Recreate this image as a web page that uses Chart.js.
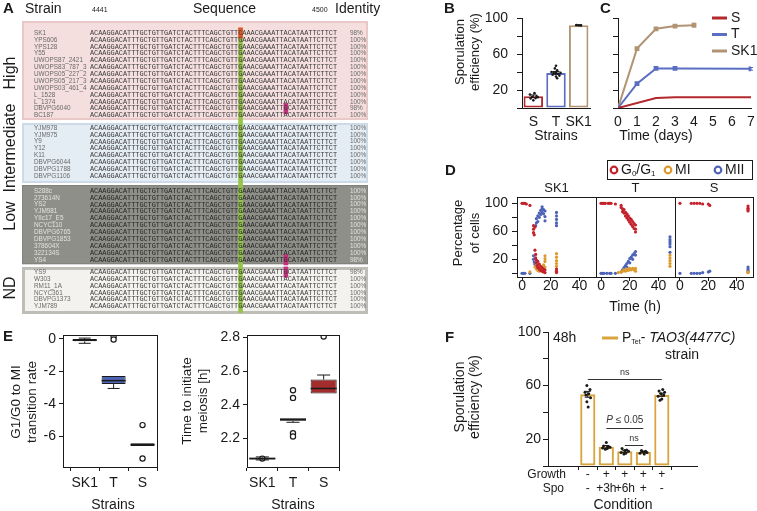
<!DOCTYPE html>
<html>
<head>
<meta charset="utf-8">
<script src="https://cdn.jsdelivr.net/npm/chart.js@4.4.1/dist/chart.umd.min.js"></script>
<style>
  html, body { margin: 0; padding: 0; background: #fff; }
  #stage { position: relative; width: 757px; height: 511px; overflow: hidden; background: #fff; }
  #stage canvas { position: absolute; left: 0; top: 0; }
</style>
</head>
<body>
<div id="stage"></div>
<script>
// ---------------- data ----------------

// A: TAO3 alignment, positions 4441-4500
const seqRef = 'ACAAGGACATTTGCTGTTGATCTACTTTCAGCTGTTGAAACGAAATTACATAATTCTTCT';
const seqFrom = 4441;
const seqTo = 4500;
const snpPosition = 4477;
const highStrains = ['SK1', 'YPS606', 'YPS128', 'Y55', 'UWOPS87_2421', 'UWOPS83_787_3', 'UWOPS05_227_2',
  'UWOPS05_217_3', 'UWOPS03_461_4', 'L_1528', 'L_1374', 'DBVPG6040', 'BC187'];
const highIdentity = [98, 100, 100, 100, 100, 100, 100, 100, 100, 100, 100, 98, 100];
const intStrains = ['YJM978', 'YJM975', 'Y9', 'Y12', 'K11', 'DBVPG6044', 'DBVPG1788', 'DBVPG1106'];
const intIdentity = [100, 100, 100, 100, 100, 100, 100, 100];
const lowStrains = ['S288c', '273614N', 'YS2', 'YJM981', 'YIIc17_E5', 'NCYC110', 'DBVPG6765', 'DBVPG1853',
  '378604X', '322134S', 'YS4'];
const lowIdentity = [100, 100, 100, 100, 100, 100, 100, 100, 100, 100, 98];
const ndStrains = ['YS9', 'W303', 'RM11_1A', 'NCYC361', 'DBVPG1373', 'YJM789'];
const ndIdentity = [98, 100, 100, 100, 100, 100];
const groupNames = ['High', 'Intermediate', 'Low', 'ND'];
const variantStrains = ['SK1', 'DBVPG6040', 'YS4', 'YS9'];
const variantPositions = [4477, 4488, 4488, 4488];
const variantBases = ['C', 'G', 'G', 'G'];

// B: sporulation efficiency
const bStrains = ['S', 'T', 'SK1'];
const bMeans = [13, 39, 92];
const bErr = [1.5, 1.5, 0.5];
const bDotsS = [[-0.15, 15], [0.05, 16.5], [0.15, 13], [-0.05, 12.5], [0.1, 11], [-0.12, 10.5], [0, 8.5], [0.2, 12]];
const bDotsT = [[0, 47], [-0.05, 44], [0.05, 42], [-0.2, 40], [-0.1, 39], [0, 39], [0.1, 38], [0.2, 39],
  [-0.15, 37], [0.15, 36], [0, 35], [0.05, 33]];
const bDotsSK1 = [[-0.1, 92.3], [0, 92], [0.1, 91.8]];
const pctTicks = [0, 20, 40, 60, 80, 100];
const pctLabelled = [20, 60, 100];

// C: time course (days)
const cSDays = [0, 2, 3, 7];
const cSValues = [0, 11, 12, 12];
const cTDays = [0, 1, 2, 3, 7];
const cTValues = [0, 27, 44, 44, 43.5];
const cTErr = [0, 1.5, 1.2, 0.8, 1.5];
const cSK1Days = [0, 1, 2, 3, 4];
const cSK1Values = [0, 66, 88, 91, 92];
const cSK1Err = [0, 1.2, 1, 1.5, 2];
const dayTicks = [0, 1, 2, 3, 4, 5, 6, 7];

// D: meiotic progression, [time h, % cells]
const dPhases = ['G0/G1', 'MI', 'MII'];
const dSk1G01 = [[0, 100], [1, 100], [2, 100], [3, 99], [5.5, 97], [8, 68], [8, 63], [8, 58], [8.5, 55], [9, 66],
  [9, 33], [9.5, 27], [9.5, 22], [10, 19], [10, 15], [10.5, 11], [11, 17], [11, 8], [12, 13], [12, 6], [13, 10],
  [13, 4], [14, 8], [14, 3], [15, 6], [15, 2], [16, 5], [16, 1], [24, 6], [24, 3], [24, 1]];
const dSk1MI = [[5.5, 2], [9, 9], [10, 12], [10, 6], [11, 10], [11, 4], [12, 8], [12, 3], [13, 9], [13, 5], [14, 7],
  [14, 3], [15, 12], [15, 5], [16, 17], [16, 21], [16, 25], [16, 9], [24, 28], [24, 23], [24, 18], [24, 14], [24, 10]];
const dSk1MII = [[0, 0], [1, 0], [2, 0], [5.5, 0], [8, 25], [8, 20], [8.5, 16], [9, 13], [9.5, 68], [10, 72],
  [10, 78], [11, 82], [11, 74], [12, 86], [12, 80], [13, 90], [13, 84], [14, 95], [14, 92], [14, 87], [15, 91],
  [15, 85], [16, 89], [16, 81], [16, 75], [24, 87], [24, 82], [24, 77], [24, 72], [24, 68]];
const dTG01 = [[0, 100], [1, 100], [2, 100], [3, 100], [5, 100], [6, 100], [7, 100], [10, 99], [14, 97], [14, 94],
  [15, 92], [15, 88], [16, 91], [16, 86], [17, 87], [17, 82], [18, 85], [18, 79], [19, 82], [19, 76], [20, 79],
  [20, 73], [21, 77], [21, 70], [22, 74], [22, 67], [23, 71], [23, 64], [24, 69], [24, 63], [24, 59]];
const dTMI = [[12, 1], [14, 2], [15, 3], [16, 5], [17, 3], [18, 6], [19, 4], [20, 7], [21, 5], [22, 7], [23, 5],
  [24, 7], [24, 3], [48, 26], [48, 22], [48, 18], [48, 14], [48, 10]];
const dTMII = [[0, 0], [1, 0], [2, 0], [4, 0], [6, 0], [7, 0], [10, 0], [14, 2], [15, 5], [16, 8], [17, 11], [18, 14],
  [18, 9], [19, 17], [20, 21], [20, 15], [21, 23], [22, 26], [22, 20], [23, 28], [24, 31], [24, 26], [48, 52],
  [48, 48], [48, 45], [48, 42], [48, 38], [48, 30]];
const dSG01 = [[0, 100], [8, 100], [10, 100], [12, 100], [14, 100], [16, 99], [20, 99], [21, 97], [48, 96], [48, 93],
  [48, 91], [48, 89]];
const dSMI = [[48, 2], [48, 1]];
const dSMII = [[0, 0], [8, 0], [10, 0], [12, 0], [14, 0], [16, 1], [20, 2], [21, 3], [48, 9], [48, 6], [48, 4], [48, 2]];
const hourTicks = [0, 20, 40];

// E: box plots
const eStrains = ['SK1', 'T', 'S'];
const rateTicks = [0, -2, -4, -6];
const rateLow = [-0.28, -3.05, -6.58];
const rateQ1 = [-0.16, -2.78, -6.58];
const rateMedian = [-0.09, -2.57, -6.5];
const rateQ3 = [-0.02, -2.29, -6.42];
const rateHigh = [0.04, -2.29, -6.42];
const rateOutlierX = [1, 1, 2, 2];
const rateOutlierY = [0.15, -0.05, -5.3, -7.35];
const timeTicks = [2.2, 2.4, 2.6, 2.8];
const timeLow = [2.072, 2.296, 2.467];
const timeQ1 = [2.075, 2.305, 2.467];
const timeMedian = [2.08, 2.312, 2.497];
const timeQ3 = [2.086, 2.32, 2.55];
const timeHigh = [2.09, 2.322, 2.577];
const timeOutlierX = [0, 1, 1, 1, 1, 2];
const timeOutlierY = [2.08, 2.486, 2.441, 2.231, 2.211, 2.806];

// F: PTet-TAO3(4477C) strain
const fConditions = [1, 2, 3, 4, 5];
const fGrowth = ['-', '+', '+', '+', '+'];
const fSpo = ['-', '+3h', '+6h', '+', '-'];
const fMeans = [53.5, 14.3, 11, 10.5, 53.2];
const fErr = [2.2, 1, 0.8, 0.5, 1.2];
const fDots1 = [[-0.05, 60], [0.12, 57], [-0.15, 55], [0.05, 54], [-0.1, 53], [0.15, 51], [-0.05, 48], [0.02, 44]];
const fDots2 = [[0, 17.5], [-0.15, 15], [0.1, 14.5], [0.2, 14], [-0.2, 13.5], [0.05, 13], [-0.05, 12.5]];
const fDots3 = [[-0.15, 13], [0.1, 12], [0, 11.5], [0.2, 11], [-0.2, 10], [0.05, 9.5], [-0.05, 9]];
const fDots4 = [[-0.1, 11.5], [0.12, 11], [0, 10.5], [0.2, 10], [-0.18, 9.5], [0.05, 9]];
const fDots5 = [[0.05, 57], [-0.15, 56], [0.15, 55], [-0.05, 54], [0.1, 53], [-0.2, 52], [0, 50], [-0.1, 49]];
const fSigFrom = [1, 2, 3];
const fSigTo = [5, 4, 4];
const fSigLevel = [64.6, 28, 15.5];
const fSigText = ['ns', 'P ≤ 0.05', 'ns'];

// ---------------- styles / setup ----------------
const W = 757, H = 511;
const INK = '#1a1a1a';
const SANS = "'Liberation Sans', Arial, Helvetica, sans-serif";
const MONO = "'Liberation Mono', 'DejaVu Sans Mono', monospace";
const strainColors = ['#b3282d', '#5a6ec2', '#b09474'];   // S, T, SK1
const phaseColors = ['#c4212b', '#dc9a2c', '#4c63b6'];
const gold = '#d9a43e';

const groupStyles = [
  { first: 0, padTop: 1.74, padBottom: 0.65, fill: '#f4dede', edge: '#eac8c8', edgeW: 2, name: '#6a6a6a', seq: '#3a3a3a', labelY: 73 },
  { first: 13.8, padTop: 0.72, padBottom: 1.0, fill: '#e4ecf4', edge: '#cddbe8', edgeW: 2, name: '#6a6a6a', seq: '#3a3a3a', labelY: 148 },
  { first: 22.96, padTop: 0.86, padBottom: 0.64, fill: '#8d8f88', edge: '#80827b', edgeW: 1, name: '#e2e2e2', seq: '#262626', labelY: 216 },
  { first: 34.75, padTop: 0.75, padBottom: 1.09, fill: '#f3f2ef', edge: '#bebdb8', edgeW: 3, name: '#6a6a6a', seq: '#3a3a3a', labelY: 288 }
];
const variantColors = ['#e0562b', '#c7307e', '#c7307e', '#c7307e'];

Chart.defaults.font.family = SANS;
Chart.defaults.font.size = 14;
Chart.defaults.color = INK;
Chart.defaults.animation = false;
Chart.defaults.responsive = false;
Chart.defaults.maintainAspectRatio = false;
Chart.defaults.devicePixelRatio = 1;
Chart.defaults.events = [];
Chart.defaults.plugins.legend.display = false;
Chart.defaults.plugins.tooltip.enabled = false;

const stage = document.getElementById('stage');
function newCanvas() {
  const c = document.createElement('canvas');
  c.width = W; c.height = H;
  c.style.width = W + 'px'; c.style.height = H + 'px';
  stage.appendChild(c);
  return c;
}
// place the chart area at (l,t)-(r,b) on the page; yW / xH = room kept for visible axes
function area(l, t, r, b, yW = 0, xH = 0) {
  return { padding: { left: l - yW, top: t, right: W - r, bottom: H - b - xH } };
}
const fixW = w => s => { s.width = w; s.paddingTop = 0; s.paddingBottom = 0; };
const fixH = h => s => { s.height = h; s.paddingLeft = 0; s.paddingRight = 0; };
const tickList = vals => s => { s.ticks = vals.map(v => ({ value: v })); };
const fnt = (size, italic, bold) => `${italic ? 'italic ' : ''}${bold ? 'bold ' : ''}${size}px ${SANS}`;
const pairs = (list, shift = 0) => list.map(p => ({ x: p[0] + shift, y: p[1] }));

// ---------------- plugins ----------------
const decorPlugin = {
  id: 'decor',
  afterDraw(chart, args, o) {
    if (!o || !o.items) return;
    const ctx = chart.ctx;
    o.items.forEach(it => {
      ctx.save();
      ctx.strokeStyle = it.color || INK;
      ctx.fillStyle = it.color || INK;
      ctx.lineWidth = it.w || 1;
      if (it.line) {
        ctx.beginPath(); ctx.moveTo(it.line[0], it.line[1]); ctx.lineTo(it.line[2], it.line[3]); ctx.stroke();
      } else if (it.rect) {
        ctx.strokeRect(it.rect[0], it.rect[1], it.rect[2], it.rect[3]);
      } else if (it.ring) {
        ctx.beginPath(); ctx.arc(it.ring[0], it.ring[1], it.r, 0, Math.PI * 2); ctx.stroke();
      } else if (it.parts) {
        let x = it.x;
        ctx.textAlign = 'left'; ctx.textBaseline = 'middle';
        it.parts.forEach(p => {
          ctx.font = fnt(p.size || it.size, p.italic, false);
          ctx.fillText(p.s, x, it.y + (p.dy || 0));
          x += ctx.measureText(p.s).width;
        });
      } else {
        ctx.translate(it.x, it.y);
        if (it.rot) ctx.rotate(it.rot * Math.PI / 180);
        ctx.font = fnt(it.size || 14, it.italic, it.bold);
        ctx.textAlign = it.align || 'center';
        ctx.textBaseline = 'middle';
        ctx.fillText(it.text, 0, 0);
      }
      ctx.restore();
    });
  }
};

const framePlugin = {
  id: 'frame',
  afterDatasetsDraw(chart, args, o) {
    if (!o || !o.on) return;
    const { ctx, chartArea: a } = chart;
    ctx.save();
    ctx.strokeStyle = INK; ctx.lineWidth = 1;
    ctx.strokeRect(Math.round(a.left) + 0.5, Math.round(a.top) + 0.5, Math.round(a.right - a.left), Math.round(a.bottom - a.top));
    ctx.restore();
  }
};

const errPlugin = {
  id: 'errbars',
  afterDatasetsDraw(chart, args, o) {
    if (!o || !o.sets) return;
    const ctx = chart.ctx;
    o.sets.forEach(set => {
      const meta = chart.getDatasetMeta(set.dataset);
      const ys = chart.scales[meta.yAxisID];
      ctx.save();
      ctx.strokeStyle = set.color || INK; ctx.lineWidth = 1;
      meta.data.forEach((el, i) => {
        const e = set.err[i];
        if (!e) return;
        const v = meta.controller.getParsed(i).y;
        const y1 = ys.getPixelForValue(v - e), y2 = ys.getPixelForValue(v + e);
        ctx.beginPath();
        ctx.moveTo(el.x, y1); ctx.lineTo(el.x, y2);
        ctx.moveTo(el.x - set.cap / 2, y1); ctx.lineTo(el.x + set.cap / 2, y1);
        ctx.moveTo(el.x - set.cap / 2, y2); ctx.lineTo(el.x + set.cap / 2, y2);
        ctx.stroke();
      });
      ctx.restore();
    });
  }
};

const boxPlugin = {
  id: 'boxplot',
  afterDatasetsDraw(chart, args, o) {
    if (!o || !o.median) return;
    const ctx = chart.ctx;
    const meta = chart.getDatasetMeta(0);
    const ys = chart.scales.y;
    ctx.save();
    ctx.strokeStyle = INK;
    meta.data.forEach((el, i) => {
      const half = el.width / 2, cap = el.width / 4;
      const pLo = ys.getPixelForValue(o.low[i]), pHi = ys.getPixelForValue(o.high[i]);
      const pQ1 = ys.getPixelForValue(o.q1[i]), pQ3 = ys.getPixelForValue(o.q3[i]);
      ctx.lineWidth = 1;
      ctx.beginPath();
      if (Math.abs(pLo - pQ1) > 0.5) {
        ctx.moveTo(el.x, pQ1); ctx.lineTo(el.x, pLo); ctx.moveTo(el.x - cap, pLo); ctx.lineTo(el.x + cap, pLo);
      }
      if (Math.abs(pHi - pQ3) > 0.5) {
        ctx.moveTo(el.x, pQ3); ctx.lineTo(el.x, pHi); ctx.moveTo(el.x - cap, pHi); ctx.lineTo(el.x + cap, pHi);
      }
      ctx.stroke();
      const pMed = ys.getPixelForValue(o.median[i]);
      ctx.lineWidth = 1.5;
      ctx.beginPath(); ctx.moveTo(el.x - half, pMed); ctx.lineTo(el.x + half, pMed); ctx.stroke();
    });
    ctx.restore();
  }
};

const sigPlugin = {
  id: 'sig',
  afterDatasetsDraw(chart, args, o) {
    if (!o || !o.from) return;
    const { ctx, scales: { x, y } } = chart;
    ctx.save();
    ctx.strokeStyle = '#333'; ctx.fillStyle = '#333'; ctx.lineWidth = 1;
    ctx.textBaseline = 'middle';
    o.from.forEach((f, i) => {
      const x1 = x.getPixelForValue(f), x2 = x.getPixelForValue(o.to[i]);
      const py = Math.round(y.getPixelForValue(o.level[i])) + 0.5;
      ctx.beginPath(); ctx.moveTo(x1, py); ctx.lineTo(x2, py); ctx.stroke();
      const txt = o.text[i];
      const mid = (x1 + x2) / 2;
      if (txt.startsWith('P ')) {
        ctx.font = fnt(10, true); const wP = ctx.measureText('P').width;
        ctx.font = fnt(10); const rest = txt.slice(1); const wR = ctx.measureText(rest).width;
        const x0 = mid - (wP + wR) / 2;
        ctx.textAlign = 'left';
        ctx.font = fnt(10, true); ctx.fillText('P', x0, py - 8);
        ctx.font = fnt(10); ctx.fillText(rest, x0 + wP, py - 8);
      } else {
        ctx.font = fnt(9); ctx.textAlign = 'center';
        ctx.fillText(txt, mid, py - 7);
      }
    });
    ctx.restore();
  }
};

const lineLegendPlugin = {
  id: 'lineLegend',
  afterDraw(chart, args, o) {
    if (!o || !o.on) return;
    const ctx = chart.ctx;
    ctx.save();
    ctx.font = fnt(14); ctx.textBaseline = 'middle'; ctx.textAlign = 'left';
    chart.data.datasets.forEach((ds, i) => {
      const yy = o.y + i * o.dy;
      ctx.strokeStyle = ds.borderColor; ctx.lineWidth = 3;
      ctx.beginPath(); ctx.moveTo(o.x, yy); ctx.lineTo(o.x + o.len, yy); ctx.stroke();
      ctx.fillStyle = INK; ctx.fillText(ds.label, o.x + o.len + 4, yy);
    });
    ctx.restore();
  }
};

const alignmentPlugin = {
  id: 'alignment',
  beforeDatasetsDraw(chart, args, o) {
    if (!o || !o.on) return;
    const { ctx, chartArea: ca, scales: { x, y } } = chart;
    const groups = [highStrains, intStrains, lowStrains, ndStrains];
    const idents = [highIdentity, intIdentity, lowIdentity, ndIdentity];
    const nCols = seqTo - seqFrom + 1;
    ctx.save();
    groups.forEach((rows, g) => {
      const st = groupStyles[g];
      const top = y.getPixelForValue(st.first - st.padTop);
      const bot = y.getPixelForValue(st.first + rows.length - 1 + st.padBottom);
      ctx.fillStyle = st.fill;
      ctx.fillRect(ca.left, top, ca.right - ca.left, bot - top);
      ctx.strokeStyle = st.edge; ctx.lineWidth = st.edgeW;
      ctx.strokeRect(ca.left + st.edgeW / 2, top + st.edgeW / 2, ca.right - ca.left - st.edgeW, bot - top - st.edgeW);
    });
    // conserved SNP column
    const snpIdx = snpPosition - seqFrom;
    const last = groupStyles[3];
    const cTop = y.getPixelForValue(groupStyles[0].first - 0.72);
    const cBot = y.getPixelForValue(last.first + ndStrains.length - 1 + 0.92);
    ctx.fillStyle = '#94c547';
    ctx.fillRect(x.getPixelForValue(snpIdx), cTop, x.getPixelForValue(snpIdx + 1) - x.getPixelForValue(snpIdx) + 0.5, cBot - cTop);
    // variant cells
    groups.forEach((rows, g) => {
      rows.forEach((name, r) => {
        variantStrains.forEach((vs, k) => {
          if (vs !== name) return;
          const idx = variantPositions[k] - seqFrom;
          const t = y.getPixelForValue(groupStyles[g].first + r - 0.8);
          const b = y.getPixelForValue(groupStyles[g].first + r + 0.8);
          ctx.fillStyle = variantColors[k];
          ctx.fillRect(x.getPixelForValue(idx), t, x.getPixelForValue(idx + 1) - x.getPixelForValue(idx) + 0.5, b - t);
        });
      });
    });
    // text
    ctx.textBaseline = 'middle';
    groups.forEach((rows, g) => {
      const st = groupStyles[g];
      rows.forEach((name, r) => {
        const py = y.getPixelForValue(st.first + r);
        const seq = seqRef.split('');
        variantStrains.forEach((vs, k) => { if (vs === name) seq[variantPositions[k] - seqFrom] = variantBases[k]; });
        ctx.font = `6.4px ${SANS}`; ctx.textAlign = 'left'; ctx.fillStyle = st.name;
        ctx.fillText(name, x.getPixelForValue(-13.6), py);
        ctx.fillText(idents[g][r] + '%', x.getPixelForValue(63.1), py);
        ctx.font = `6.9px ${MONO}`; ctx.textAlign = 'center'; ctx.fillStyle = st.seq;
        for (let i = 0; i < nCols; i++) ctx.fillText(seq[i], x.getPixelForValue(i + 0.5), py);
      });
    });
    ctx.restore();
  }
};

Chart.register(decorPlugin, framePlugin, errPlugin, boxPlugin, sigPlugin, lineLegendPlugin, alignmentPlugin);

// common axis pieces
const yTickGrid = len => ({ display: true, drawOnChartArea: false, drawTicks: true, tickLength: len, color: INK, lineWidth: 1 });
const noGrid = { display: false, drawTicks: false };
const axisLine = { display: true, color: INK, width: 1 };
const pctLabel = v => (pctLabelled.includes(v) ? String(v) : '');

// ---------------- A ----------------
new Chart(newCanvas(), {
  type: 'scatter',
  data: { datasets: [] },
  options: {
    layout: area(22, 21, 368, 314),
    scales: {
      x: { type: 'linear', min: -16.5, max: 67.5, display: false },
      y: { type: 'linear', min: -1.74, max: 40.84, reverse: true, display: false }
    },
    plugins: {
      alignment: { on: true },
      decor: {
        items: [
          { text: 'A', x: 3, y: 9, size: 15, bold: true, align: 'left' },
          { text: 'Strain', x: 25, y: 9, size: 14, align: 'left' },
          { text: String(seqFrom), x: 92, y: 10, size: 7, align: 'left' },
          { text: 'Sequence', x: 193, y: 9, size: 14, align: 'left' },
          { text: String(seqTo), x: 312, y: 10, size: 7, align: 'left' },
          { text: 'Identity', x: 335, y: 9, size: 14, align: 'left' },
          ...groupNames.map((g, i) => ({ text: g, x: 11, y: groupStyles[i].labelY, size: 16, rot: -90 }))
        ]
      }
    }
  }
});

// ---------------- B ----------------
new Chart(newCanvas(), {
  type: 'bar',
  data: {
    datasets: [
      {
        data: bMeans.map((v, i) => ({ x: i, y: v })),
        backgroundColor: '#ffffff', borderColor: strainColors, borderWidth: 2, borderSkipped: false,
        barPercentage: 0.86, categoryPercentage: 1, order: 2
      },
      {
        type: 'scatter',
        data: [...pairs(bDotsS, 0), ...pairs(bDotsT, 1), ...pairs(bDotsSK1, 2)],
        pointRadius: 1.3, pointBackgroundColor: INK, pointBorderWidth: 0, order: 1
      }
    ]
  },
  options: {
    layout: area(522, 18, 590, 108, 40, 40),
    scales: {
      x: {
        type: 'linear', min: -0.5, max: 2.5, offset: false, afterBuildTicks: tickList([0, 1, 2]), afterFit: fixH(40),
        grid: noGrid, border: axisLine,
        ticks: { callback: v => bStrains[v], padding: 6, font: { size: 14 }, maxRotation: 0, autoSkip: false }
      },
      y: {
        min: 0, max: 100, afterBuildTicks: tickList(pctTicks), afterFit: fixW(40),
        grid: yTickGrid(5), border: axisLine,
        ticks: { callback: pctLabel, padding: 9, font: { size: 14 }, autoSkip: false }
      }
    },
    plugins: {
      errbars: { sets: [{ dataset: 0, err: bErr, cap: 7 }] },
      decor: {
        items: [
          { text: 'B', x: 444, y: 9, size: 15, bold: true, align: 'left' },
          { text: 'Sporulation', x: 460, y: 52, size: 13, rot: -90 },
          { text: 'efficiency (%)', x: 475, y: 52, size: 13, rot: -90 },
          { text: 'Strains', x: 556, y: 136, size: 14 }
        ]
      }
    }
  }
});

// ---------------- C ----------------
new Chart(newCanvas(), {
  type: 'scatter',
  data: {
    datasets: [
      { label: 'S', data: cSDays.map((d, i) => ({ x: d, y: cSValues[i] })), showLine: true, borderColor: strainColors[0], backgroundColor: strainColors[0], borderWidth: 2, pointRadius: 0 },
      { label: 'T', data: cTDays.map((d, i) => ({ x: d, y: cTValues[i] })), showLine: true, borderColor: strainColors[1], backgroundColor: strainColors[1], borderWidth: 2, pointRadius: 2, pointStyle: 'rect' },
      { label: 'SK1', data: cSK1Days.map((d, i) => ({ x: d, y: cSK1Values[i] })), showLine: true, borderColor: strainColors[2], backgroundColor: strainColors[2], borderWidth: 2, pointRadius: 2, pointStyle: 'rect' }
    ]
  },
  options: {
    layout: area(618, 18, 753, 108, 30, 40),
    scales: {
      x: {
        type: 'linear', min: 0, max: 7, afterBuildTicks: tickList(dayTicks), afterFit: fixH(40),
        grid: noGrid, border: axisLine,
        ticks: { padding: 6, font: { size: 14 }, maxRotation: 0, autoSkip: false }
      },
      y: {
        min: 0, max: 100, afterBuildTicks: tickList(pctTicks), afterFit: fixW(30),
        grid: yTickGrid(5), border: axisLine,
        ticks: { callback: () => '', autoSkip: false }
      }
    },
    plugins: {
      errbars: { sets: [{ dataset: 1, err: cTErr, cap: 4, color: strainColors[1] }, { dataset: 2, err: cSK1Err, cap: 4, color: strainColors[2] }] },
      lineLegend: { on: true, x: 712, y: 18, dy: 16.5, len: 15 },
      decor: {
        items: [
          { text: 'C', x: 600, y: 9, size: 15, bold: true, align: 'left' },
          { text: 'Time (days)', x: 656, y: 136, size: 14 }
        ]
      }
    }
  }
});

// ---------------- D ----------------
function facet(l, r, title, g01, mi, mii, withY, extra) {
  return new Chart(newCanvas(), {
    type: 'scatter',
    data: {
      datasets: [g01, mi, mii].map((set, k) => ({
        label: dPhases[k], data: pairs(set), pointRadius: 1.6, pointBorderWidth: 0,
        pointBackgroundColor: phaseColors[k]
      }))
    },
    options: {
      layout: area(l, 197, r, 277, withY ? 40 : 0, 30),
      scales: {
        x: {
          type: 'linear', min: -3.5, max: 51.5, afterBuildTicks: tickList(hourTicks), afterFit: fixH(30),
          grid: { display: true, drawOnChartArea: false, tickLength: 4, color: INK }, border: axisLine,
          ticks: { padding: -3, font: { size: 14 }, maxRotation: 0, autoSkip: false }
        },
        y: withY ? {
          min: -5.3, max: 109, afterBuildTicks: tickList(pctTicks), afterFit: fixW(40),
          grid: yTickGrid(5), border: axisLine,
          ticks: { callback: pctLabel, padding: 4, font: { size: 14 }, autoSkip: false }
        } : { min: -5.3, max: 109, display: false }
      },
      plugins: {
        frame: { on: true },
        decor: { items: [{ text: title, x: (l + r) / 2, y: 188, size: 13 }, ...(extra || [])] }
      }
    }
  });
}
facet(517, 596, 'SK1', dSk1G01, dSk1MI, dSk1MII, true, [
  { text: 'D', x: 445, y: 171, size: 15, bold: true, align: 'left' },
  { text: 'Percentage', x: 458, y: 233, size: 13, rot: -90 },
  { text: 'of cells', x: 475, y: 233, size: 13, rot: -90 },
  { text: 'Time (h)', x: 635, y: 307, size: 14 },
  { rect: [607.5, 160.5, 145, 19] },
  { ring: [614, 170], r: 3.3, w: 2.2, color: phaseColors[0] },
  { parts: [{ s: 'G' }, { s: '0', size: 8, dy: 4 }, { s: '/G' }, { s: '1', size: 8, dy: 4 }], x: 621, y: 170, size: 14 },
  { ring: [668, 170], r: 3.3, w: 2.2, color: phaseColors[1] },
  { text: 'MI', x: 675, y: 170, size: 14, align: 'left' },
  { ring: [718, 170], r: 3.3, w: 2.2, color: phaseColors[2] },
  { text: 'MII', x: 725, y: 170, size: 14, align: 'left' }
]);
facet(596, 675, 'T', dTG01, dTMI, dTMII, false);
facet(675, 753, 'S', dSG01, dSMI, dSMII, false);

// ---------------- E ----------------
function boxChart(l, r, xMin, xMax, yMin, yMax, ticks, fmt, lo, q1, med, q3, hi, ox, oy, fills, pct, items) {
  return new Chart(newCanvas(), {
    type: 'bar',
    data: {
      datasets: [
        {
          data: eStrains.map((s, i) => ({ x: i, y: [q1[i], q3[i]] })),
          backgroundColor: fills, borderColor: INK, borderWidth: 1, borderSkipped: false,
          barPercentage: pct, categoryPercentage: 1, order: 2
        },
        {
          type: 'scatter', data: ox.map((x, i) => ({ x, y: oy[i] })),
          pointRadius: 2.6, pointBackgroundColor: '#ffffff', pointBorderColor: INK, pointBorderWidth: 1.2, order: 1
        }
      ]
    },
    options: {
      layout: area(l, 335, r, 467, 45, 30),
      scales: {
        x: {
          type: 'linear', min: xMin, max: xMax, offset: false, afterBuildTicks: tickList([0, 1, 2]), afterFit: fixH(30),
          grid: { display: true, drawOnChartArea: false, tickLength: 4, color: INK }, border: axisLine,
          ticks: { callback: v => eStrains[v], padding: 4, font: { size: 14 }, maxRotation: 0, autoSkip: false }
        },
        y: {
          min: yMin, max: yMax, afterBuildTicks: tickList(ticks), afterFit: fixW(45),
          grid: yTickGrid(4), border: axisLine,
          ticks: { callback: fmt, padding: 3, font: { size: 14 }, autoSkip: false }
        }
      },
      plugins: {
        frame: { on: true },
        boxplot: { low: lo, q1, median: med, q3, high: hi },
        decor: { items }
      }
    }
  });
}
boxChart(63, 157, -0.75, 2.5, -7.87, 0.23, rateTicks, v => String(v),
  rateLow, rateQ1, rateMedian, rateQ3, rateHigh, rateOutlierX, rateOutlierY,
  ['#111111', '#4e64b4', '#7a1d1d'], 0.83, [
    { text: 'E', x: 3, y: 337, size: 15, bold: true, align: 'left' },
    { text: 'G1/G0 to MI', x: 16, y: 402, size: 13.5, rot: -90 },
    { text: 'transition rate', x: 32, y: 402, size: 13.5, rot: -90 },
    { text: 'Strains', x: 113, y: 505, size: 14 }
  ]);
boxChart(247, 339, -0.5, 2.5, 2.03, 2.815, timeTicks, v => v.toFixed(1),
  timeLow, timeQ1, timeMedian, timeQ3, timeHigh, timeOutlierX, timeOutlierY,
  ['#111111', '#111111', '#a32d2c'], 0.85, [
    { text: 'Time to initiate', x: 187, y: 401, size: 13.5, rot: -90 },
    { text: 'meiosis [h]', x: 203, y: 401, size: 13.5, rot: -90 },
    { text: 'Strains', x: 293, y: 505, size: 14 }
  ]);

// ---------------- F ----------------
new Chart(newCanvas(), {
  type: 'bar',
  data: {
    datasets: [
      {
        data: fConditions.map((c, i) => ({ x: c, y: fMeans[i] })),
        backgroundColor: '#ffffff', borderColor: gold, borderWidth: 2.2, borderSkipped: false,
        barPercentage: 0.82, categoryPercentage: 1, order: 2
      },
      {
        type: 'scatter',
        data: [...pairs(fDots1, 1), ...pairs(fDots2, 2), ...pairs(fDots3, 3), ...pairs(fDots4, 4), ...pairs(fDots5, 5)],
        pointRadius: 1.5, pointBackgroundColor: INK, pointBorderWidth: 0, order: 1
      }
    ]
  },
  options: {
    layout: area(548, 332, 697, 466, 45, 36),
    scales: {
      x: {
        type: 'linear', min: -1.15, max: 6.9, offset: false, afterBuildTicks: tickList(fConditions), afterFit: fixH(36),
        grid: { display: true, drawOnChartArea: false, tickLength: 4, color: INK }, border: axisLine,
        ticks: { callback: (v, i) => [fGrowth[i], fSpo[i]], padding: -2, font: { size: 12, lineHeight: 1.17 }, maxRotation: 0, autoSkip: false }
      },
      y: {
        min: 0, max: 100, afterBuildTicks: tickList(pctTicks), afterFit: fixW(45),
        grid: yTickGrid(5), border: axisLine,
        ticks: { callback: pctLabel, padding: 2, font: { size: 14 }, autoSkip: false }
      }
    },
    plugins: {
      errbars: { sets: [{ dataset: 0, err: fErr, cap: 6 }] },
      sig: { from: fSigFrom, to: fSigTo, level: fSigLevel, text: fSigText },
      decor: {
        items: [
          { text: 'F', x: 445, y: 338, size: 15, bold: true, align: 'left' },
          { text: 'Sporulation', x: 460, y: 397, size: 14, rot: -90 },
          { text: 'efficiency (%)', x: 475, y: 397, size: 14, rot: -90 },
          { text: '48h', x: 553, y: 338, size: 14, align: 'left' },
          { line: [602, 338, 618, 338], w: 3, color: gold },
          { parts: [{ s: 'P' }, { s: 'Tet', size: 7, dy: 4 }, { s: '- ' }, { s: 'TAO3(4477C)', italic: true }], x: 622, y: 338, size: 14 },
          { text: 'strain', x: 682, y: 355, size: 14 },
          { text: 'Growth', x: 566, y: 475, size: 12, align: 'right' },
          { text: 'Spo', x: 564, y: 489, size: 12, align: 'right' },
          { text: 'Condition', x: 623, y: 505, size: 14 }
        ]
      }
    }
  }
});
</script>
</body>
</html>
